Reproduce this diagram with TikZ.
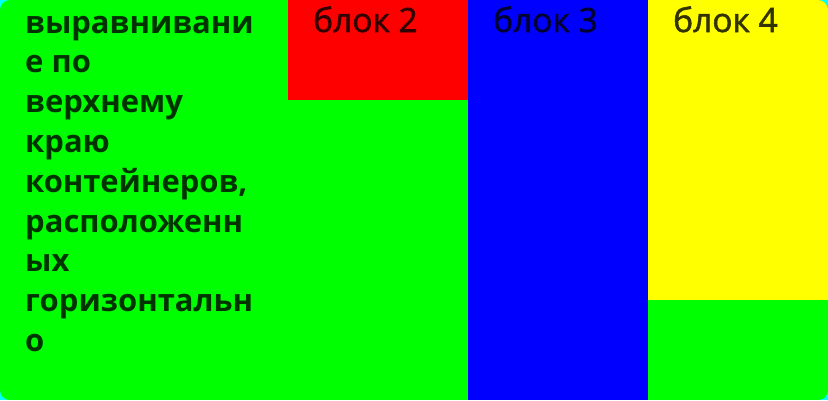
\documentclass[tikz,border=0pt]{standalone}
\usepackage{fontspec}
\setmainfont{Open Sans}
\newfontfamily\medfont[FakeBold=1.6]{Open Sans}
\definecolor{bgcyan}{HTML}{00FFFF}
\definecolor{cgreen}{HTML}{00FF00}
\definecolor{cred}{HTML}{FF0000}
\definecolor{cblue}{HTML}{0000FF}
\definecolor{cyellow}{HTML}{FFFF00}
\tikzset{
  blocktext/.style={anchor=base west, inner sep=0pt, font=\medfont\fontsize{33.5}{40}\selectfont},
}
\begin{document}
\begin{tikzpicture}[x=1pt,y=-1pt]
\fill[bgcyan] (0,0) rectangle (828,400);
\useasboundingbox (0,0) rectangle (828,400);
\begin{scope}
\clip[rounded corners=10pt] (0,0) rectangle (828,400);
\fill[cgreen] (0,0) rectangle (828,400);
\fill[cred] (288,0) rectangle (468,100);
\fill[cblue] (468,0) rectangle (648,400);
\fill[cyellow] (648,0) rectangle (828,300);
\end{scope}
\node[blocktext, text=cgreen!20!black, font=\fontsize{31}{39.8}\selectfont\bfseries] (b1) at (25,33)
  {\parbox[t]{260pt}{\raggedright выравнивани\\е по\\верхнему\\краю\\контейнеров,\\расположенн\\ых\\горизонтальн\\о}};
\node[blocktext, text=cred!20!black] (b2) at (313,32) {блок 2};
\node[blocktext, text=cblue!20!black] (b3) at (493,32) {блок 3};
\node[blocktext, text=cyellow!20!black] (b4) at (673,32) {блок 4};
\end{tikzpicture}
\end{document}
